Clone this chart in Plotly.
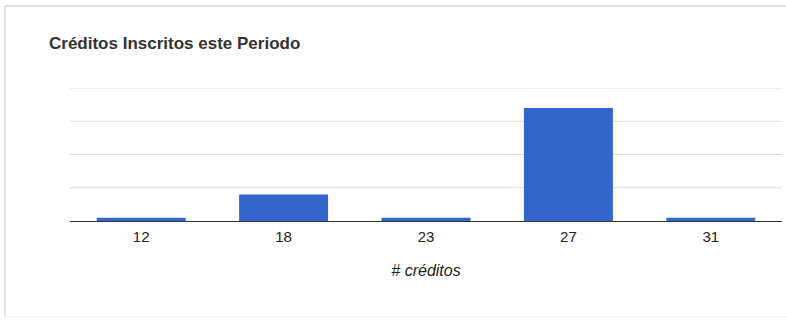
import plotly.graph_objects as go

# Data
categories = ["12", "18", "23", "27", "31"]
counts = [1, 8, 1, 34, 1]
y_gridlines = [10, 20, 30, 40]

W, H = 786, 320
PL, PR, PT, PB = 70, 782, 88, 221  # plot area edges in page pixels
ML, MR, MT, MB = PL, W - PR, PT, H - PB
pw, ph = W - ML - MR, H - MT - MB

FONT = "Arial, Liberation Sans, sans-serif"

def px_x(x):
    return (x - PL) / pw

def px_y(y):
    return (PB - y) / ph

fig = go.Figure(
    go.Bar(
        x=categories,
        y=counts,
        marker=dict(color="#3366cc", line=dict(width=0)),
        hoverinfo="x+y",
    )
)

shapes = [
    dict(
        type="line",
        xref="paper",
        yref="y",
        x0=0,
        x1=1,
        y0=g,
        y1=g,
        line=dict(color="#d9d9d9", width=1),
        layer="below",
    )
    for g in y_gridlines
]
# card border: top, left, bottom (no visible right edge)
border = [
    (5, 6, W, 6, "#e0e0e0"),
    (5, 6, 5, 317, "#e3e3e3"),
    (5, 317, W, 317, "#f2f2f2"),
]
for x0, y0, x1, y1, col in border:
    shapes.append(
        dict(
            type="line",
            xref="paper",
            yref="paper",
            x0=px_x(x0),
            x1=px_x(x1),
            y0=px_y(y0),
            y1=px_y(y1),
            line=dict(color=col, width=2),
            layer="below",
        )
    )

fig.update_layout(
    width=W,
    height=H,
    margin=dict(l=ML, r=MR, t=MT, b=MB),
    paper_bgcolor="white",
    plot_bgcolor="white",
    bargap=0.375,
    showlegend=False,
    font=dict(family=FONT, color="#222222", size=15),
    title=dict(
        text="<b>Créditos Inscritos este Periodo</b>",
        x=49 / W,
        xanchor="left",
        xref="container",
        y=1 - 43 / H,
        yanchor="middle",
        yref="container",
        font=dict(size=17, color="#333333", family=FONT),
    ),
    xaxis=dict(
        type="category",
        showgrid=False,
        showline=True,
        linecolor="#333333",
        linewidth=1,
        ticks="",
        ticklabelstandoff=2,
        tickfont=dict(size=15, color="#222222", family=FONT),
        title=dict(
            text="# créditos",
            font=dict(size=16, color="#222222", style="italic", family=FONT),
            standoff=20,
        ),
    ),
    yaxis=dict(
        range=[0, 40],
        showticklabels=False,
        showgrid=False,
        zeroline=False,
        fixedrange=True,
    ),
    shapes=shapes,
)

fig.write_html(
    "out.html",
    config={"displayModeBar": False},
    post_script=(
        "document.body.style.margin='0px';"
        "document.body.style.padding='0px';"
        "document.body.style.overflow='hidden';"
        "document.documentElement.style.overflow='hidden';"
    ),
)
